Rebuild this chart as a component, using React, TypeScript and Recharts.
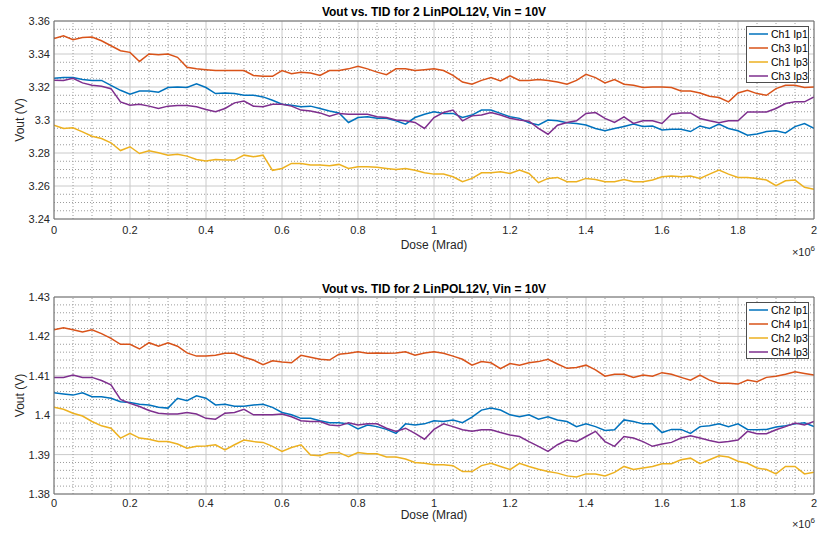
import React from "react";
import { LineChart, Line, XAxis, YAxis, CartesianGrid, ReferenceLine, Label } from "recharts";

// dose in Mrad (axis shows x10^6 rad)
const DOSE = [
  0, 0.025, 0.05, 0.075, 0.1, 0.125, 0.15, 0.175, 0.2, 0.225,
  0.25, 0.275, 0.3, 0.325, 0.35, 0.375, 0.4, 0.425, 0.45, 0.475,
  0.5, 0.525, 0.55, 0.575, 0.6, 0.625, 0.65, 0.675, 0.7, 0.725,
  0.75, 0.775, 0.8, 0.825, 0.85, 0.875, 0.9, 0.925, 0.95, 0.975,
  1, 1.025, 1.05, 1.075, 1.1, 1.125, 1.15, 1.175, 1.2, 1.225,
  1.25, 1.275, 1.3, 1.325, 1.35, 1.375, 1.4, 1.425, 1.45, 1.475,
  1.5, 1.525, 1.55, 1.575, 1.6, 1.625, 1.65, 1.675, 1.7, 1.725,
  1.75, 1.775, 1.8, 1.825, 1.85, 1.875, 1.9, 1.925, 1.95, 1.975,
  2,
];

// top panel
const CH1_IP1 = [
  3.3253, 3.3257, 3.3257, 3.3245, 3.324, 3.324, 3.321, 3.318, 3.3156, 3.3176,
  3.3176, 3.3168, 3.3197, 3.32, 3.3197, 3.322, 3.3197, 3.316, 3.3164, 3.316,
  3.315, 3.315, 3.314, 3.312, 3.3096, 3.309, 3.308, 3.3084, 3.307, 3.3055,
  3.3043, 3.2985, 3.3015, 3.302, 3.301, 3.301, 3.2995, 3.2975, 3.3015, 3.3035,
  3.305, 3.304, 3.304, 3.3015, 3.303, 3.306, 3.306, 3.304, 3.302, 3.301,
  3.2983, 3.297, 3.3, 3.2995, 3.2983, 3.2979, 3.297, 3.2949, 3.2935, 3.2949,
  3.296, 3.2975, 3.296, 3.2964, 3.294, 3.2944, 3.2944, 3.293, 3.2964, 3.2949,
  3.2975, 3.2949, 3.2935, 3.2908, 3.2915, 3.293, 3.2935, 3.2922, 3.296, 3.2979,
  3.2949,
];
const CH3_IP1 = [
  3.3493, 3.351, 3.3487, 3.35, 3.3503, 3.348, 3.345, 3.342, 3.341, 3.3355,
  3.34, 3.3395, 3.34, 3.338, 3.332, 3.331, 3.3305, 3.33, 3.33, 3.33,
  3.33, 3.327, 3.3265, 3.3265, 3.33, 3.328, 3.329, 3.3285, 3.327, 3.33,
  3.33, 3.331, 3.3326, 3.331, 3.329, 3.3275, 3.331, 3.331, 3.33, 3.3305,
  3.331, 3.33, 3.327, 3.323, 3.3217, 3.324, 3.3257, 3.3237, 3.3267, 3.324,
  3.324, 3.3245, 3.324, 3.323, 3.3217, 3.324, 3.3277, 3.3257, 3.3225, 3.3245,
  3.3217, 3.321, 3.3197, 3.32, 3.32, 3.3197, 3.3176, 3.3176, 3.3164, 3.3144,
  3.3136, 3.311, 3.3164, 3.318, 3.316, 3.315, 3.319, 3.321, 3.321, 3.3197,
  3.32,
];
const CH1_IP3 = [
  3.2969, 3.2949, 3.2953, 3.2928, 3.2902, 3.2888, 3.2862, 3.2815, 3.2838, 3.2797,
  3.2813, 3.2801, 3.2787, 3.2793, 3.2781, 3.2761, 3.2751, 3.2761, 3.2757, 3.2757,
  3.2787, 3.2777, 3.2787, 3.2695, 3.2706, 3.2737, 3.2737, 3.2727, 3.2727, 3.2723,
  3.2731, 3.2706, 3.2717, 3.2717, 3.2713, 3.2706, 3.27, 3.2706, 3.2696, 3.268,
  3.2672, 3.2672, 3.2656, 3.2626, 3.2646, 3.268, 3.268, 3.2686, 3.2676, 3.2696,
  3.2676, 3.262, 3.2646, 3.2652, 3.2626, 3.2626, 3.2646, 3.264, 3.2626, 3.2626,
  3.264, 3.2626, 3.2626, 3.2636, 3.2656, 3.266, 3.2656, 3.266, 3.2646, 3.2672,
  3.2696, 3.2672, 3.2652, 3.2652, 3.2646, 3.2636, 3.2602, 3.2632, 3.2636, 3.2592,
  3.258,
];
const CH3_IP3 = [
  3.3241, 3.324, 3.3253, 3.3225, 3.321, 3.3205, 3.319, 3.311, 3.309, 3.3096,
  3.3084, 3.307, 3.3084, 3.3088, 3.3088, 3.308, 3.3064, 3.305, 3.307, 3.3104,
  3.3115, 3.3084, 3.308, 3.3096, 3.3096, 3.3084, 3.306, 3.3055, 3.3043, 3.3023,
  3.304, 3.3035, 3.3035, 3.3035, 3.302, 3.3015, 3.3, 3.2995, 3.2985, 3.2949,
  3.3015, 3.3045, 3.306, 3.2995, 3.3025, 3.303, 3.3045, 3.303, 3.301, 3.3,
  3.2993, 3.2949, 3.2914, 3.2968, 3.2985, 3.2995, 3.304, 3.3045, 3.301, 3.2985,
  3.3019, 3.2979, 3.2995, 3.2995, 3.2979, 3.3035, 3.3043, 3.3043, 3.3009, 3.2995,
  3.2983, 3.2995, 3.2995, 3.3049, 3.3049, 3.3049, 3.307, 3.31, 3.311, 3.311,
  3.314,
];

// bottom panel
const CH2_IP1 = [
  1.4057, 1.4054, 1.4051, 1.4057, 1.4047, 1.4047, 1.4043, 1.4034, 1.4032, 1.4028,
  1.4026, 1.402, 1.4018, 1.4043, 1.4037, 1.4049, 1.4043, 1.4026, 1.4028, 1.4023,
  1.4023, 1.4026, 1.4028, 1.402, 1.4007, 1.4001, 1.3992, 1.3992, 1.3986, 1.3981,
  1.3981, 1.3978, 1.3965, 1.3975, 1.3971, 1.3964, 1.3954, 1.3978, 1.3975, 1.3978,
  1.3986, 1.3984, 1.3988, 1.3981, 1.3995, 1.4013, 1.4018, 1.4013, 1.4001, 1.3996,
  1.4001, 1.399, 1.3996, 1.3988, 1.3984, 1.3971, 1.3978, 1.3971, 1.3961, 1.3963,
  1.3988, 1.3984, 1.3978, 1.3978, 1.3956, 1.3964, 1.3964, 1.3954, 1.3971, 1.3973,
  1.3978, 1.3971, 1.3978, 1.3964, 1.3963, 1.3964, 1.397, 1.3973, 1.3978, 1.3981,
  1.3971,
];
const CH4_IP1 = [
  1.4217, 1.4222, 1.4217, 1.4211, 1.4217, 1.4207, 1.4195, 1.418, 1.418, 1.4168,
  1.4184, 1.4175, 1.4184, 1.4175, 1.4158, 1.415, 1.415, 1.4152, 1.4157, 1.4157,
  1.4147, 1.414, 1.4128, 1.4138, 1.4135, 1.4133, 1.4152, 1.4147, 1.4142, 1.414,
  1.4155, 1.4157, 1.4161, 1.4157, 1.4158, 1.4157, 1.4158, 1.4161, 1.4152, 1.4158,
  1.4161, 1.4157, 1.415, 1.4142, 1.4127, 1.4136, 1.4133, 1.4118, 1.4131, 1.4127,
  1.4133, 1.4136, 1.4142, 1.413, 1.4119, 1.4121, 1.4127, 1.4115, 1.4099, 1.4104,
  1.4104, 1.4096, 1.4102, 1.4099, 1.4108, 1.4104, 1.4096, 1.4089, 1.4102, 1.4089,
  1.4081, 1.4081, 1.4079, 1.4089, 1.4085, 1.4096, 1.4099, 1.4104, 1.411, 1.4106,
  1.4102,
];
const CH2_IP3 = [
  1.402, 1.4015, 1.4005, 1.3998, 1.3984, 1.3973, 1.3967, 1.3942, 1.3954, 1.3942,
  1.3939, 1.3933, 1.3933, 1.3927, 1.3916, 1.3921, 1.3922, 1.3925, 1.3912, 1.3925,
  1.3937, 1.3933, 1.3931, 1.3921, 1.3908, 1.3918, 1.3925, 1.3899, 1.3897, 1.3905,
  1.3905, 1.3895, 1.3905, 1.3902, 1.3902, 1.3894, 1.3894, 1.3889, 1.388, 1.3878,
  1.3874, 1.3874, 1.3872, 1.3857, 1.3857, 1.3872, 1.3878, 1.387, 1.3862, 1.3878,
  1.387, 1.3863, 1.3857, 1.3853, 1.3846, 1.3843, 1.3851, 1.3851, 1.3846, 1.3855,
  1.387, 1.3862, 1.3866, 1.387, 1.3877, 1.3877, 1.3887, 1.3891, 1.3877, 1.3887,
  1.3897, 1.3894, 1.3883, 1.3878, 1.3866, 1.3862, 1.3851, 1.387, 1.387, 1.3851,
  1.3855,
];
const CH4_IP3 = [
  1.4096, 1.4096, 1.4102, 1.4096, 1.4096, 1.4088, 1.4077, 1.404, 1.403, 1.4022,
  1.4012, 1.4005, 1.4003, 1.4003, 1.4007, 1.4003, 1.3992, 1.399, 1.4005, 1.4007,
  1.4015, 1.4001, 1.4001, 1.4001, 1.4003, 1.3996, 1.3986, 1.3984, 1.3984, 1.3975,
  1.3973, 1.3981, 1.3975, 1.3978, 1.3978, 1.3967, 1.3959, 1.3967, 1.3954, 1.3939,
  1.3964, 1.3978, 1.3971, 1.3963, 1.3959, 1.3963, 1.3963, 1.3956, 1.395, 1.3946,
  1.3933, 1.3921, 1.3908, 1.3925, 1.3937, 1.3933, 1.3946, 1.3959, 1.3933, 1.3921,
  1.3946, 1.3942, 1.3933, 1.3921, 1.3927, 1.3931, 1.3942, 1.3948, 1.3942, 1.3936,
  1.3931, 1.3933, 1.3937, 1.3959, 1.3953, 1.3953, 1.3963, 1.3971, 1.398, 1.3975,
  1.3984,
];

const X_TICKS = [0, 0.2, 0.4, 0.6, 0.8, 1, 1.2, 1.4, 1.6, 1.8, 2];
const X_MINOR = [
  0.05, 0.1, 0.15, 0.25, 0.3, 0.35, 0.45, 0.5, 0.55, 0.65, 0.7, 0.75, 0.85, 0.9, 0.95,
  1.05, 1.1, 1.15, 1.25, 1.3, 1.35, 1.45, 1.5, 1.55, 1.65, 1.7, 1.75, 1.85, 1.9, 1.95,
];
const TOP_Y_TICKS = [3.24, 3.26, 3.28, 3.3, 3.32, 3.34, 3.36];
const TOP_Y_MINOR = [
  3.245, 3.25, 3.255, 3.265, 3.27, 3.275, 3.285, 3.29, 3.295,
  3.305, 3.31, 3.315, 3.325, 3.33, 3.335, 3.345, 3.35, 3.355,
];
const BOT_Y_TICKS = [1.38, 1.39, 1.4, 1.41, 1.42, 1.43];
const BOT_Y_MINOR = [
  1.382, 1.384, 1.386, 1.388, 1.392, 1.394, 1.396, 1.398, 1.402, 1.404,
  1.406, 1.408, 1.412, 1.414, 1.416, 1.418, 1.422, 1.424, 1.426, 1.428,
];

const TITLE = "Vout vs. TID for 2 LinPOL12V, Vin = 10V";

const BLUE = "#0072BD";
const ORANGE = "#D95319";
const YELLOW = "#EDB120";
const PURPLE = "#7E2F8E";

const TOP_SERIES = [
  { key: "ch1ip1", name: "Ch1 Ip1", color: BLUE, values: CH1_IP1 },
  { key: "ch3ip1", name: "Ch3 Ip1", color: ORANGE, values: CH3_IP1 },
  { key: "ch1ip3", name: "Ch1 Ip3", color: YELLOW, values: CH1_IP3 },
  { key: "ch3ip3", name: "Ch3 Ip3", color: PURPLE, values: CH3_IP3 },
];
const BOT_SERIES = [
  { key: "ch2ip1", name: "Ch2 Ip1", color: BLUE, values: CH2_IP1 },
  { key: "ch4ip1", name: "Ch4 Ip1", color: ORANGE, values: CH4_IP1 },
  { key: "ch2ip3", name: "Ch2 Ip3", color: YELLOW, values: CH2_IP3 },
  { key: "ch4ip3", name: "Ch4 Ip3", color: PURPLE, values: CH4_IP3 },
];

type Series = { key: string; name: string; color: string; values: number[] };

const FONT = "'Liberation Sans', Arial, Helvetica, sans-serif";
const AXIS = "#6e6e6e";
const TEXT = "#262626";
const MINOR = "#9c9c9c";
const MAJOR = "#cacaca";

function buildRows(series: Series[]) {
  return DOSE.map((d, i) => {
    const row: Record<string, number> = { dose: d };
    series.forEach((s) => (row[s.key] = s.values[i]));
    return row;
  });
}

// "Dose (Mrad)" plus the x10^6 exponent, placed under the axis
const XLabel = (dy: number, expDy: number) => (props: any) => {
  const vb = props.viewBox;
  return (
    <g>
      <text x={vb.x + vb.width / 2} y={vb.y + dy} textAnchor="middle" fontSize={12} fill={TEXT}>
        Dose (Mrad)
      </text>
      <text x={vb.x + vb.width + 1} y={vb.y + expDy} textAnchor="end" fontSize={11} fill={TEXT}>
        ×10
        <tspan dy={-5} fontSize={8}>6</tspan>
      </text>
    </g>
  );
};

function LegendBox({ series, top }: { series: Series[]; top: number }) {
  return (
    <div
      style={{
        position: "absolute",
        left: 746,
        top,
        width: 63,
        height: 57,
        border: "1px solid #4d4d4d",
        background: "#fff",
        boxSizing: "border-box",
      }}
    >
      {series.map((s, i) => (
        <div
          key={s.key}
          style={{ position: "absolute", left: 0, top: i * 14, height: 14, display: "flex", alignItems: "center" }}
        >
          <svg width={24} height={14} style={{ display: "block" }}>
            <line x1={2} x2={21} y1={7} y2={7} stroke={s.color} strokeWidth={1.5} />
          </svg>
          <span style={{ fontSize: 10.5, color: "#000", whiteSpace: "nowrap" }}>{s.name}</span>
        </div>
      ))}
    </div>
  );
}

type PanelProps = {
  series: Series[];
  yDomain: [number, number];
  yTicks: number[];
  yMinor: number[];
  height: number;
  marginTop: number;
  xAxisHeight: number;
  tickGap: number;
  labelDy: number;
  expDy: number;
};

function Panel(p: PanelProps) {
  const data = buildRows(p.series);
  return (
    <LineChart
      width={820}
      height={p.height}
      data={data}
      margin={{ top: p.marginTop - 1, right: 5, bottom: 0, left: 0 }}
    >
      <XAxis
        xAxisId="top"
        orientation="top"
        type="number"
        domain={[0, 2]}
        ticks={X_TICKS}
        height={1}
        tick={false}
        tickLine={false}
        axisLine={{ stroke: AXIS }}
      />
      <YAxis
        yAxisId="right"
        orientation="right"
        type="number"
        domain={p.yDomain}
        ticks={p.yTicks}
        width={1}
        tick={false}
        tickLine={false}
        axisLine={{ stroke: AXIS }}
      />
      <XAxis
        xAxisId="x"
        dataKey="dose"
        type="number"
        domain={[0, 2]}
        ticks={X_TICKS}
        allowDataOverflow
        height={p.xAxisHeight}
        tickLine={false}
        tickSize={0}
        tickMargin={p.tickGap}
        tick={{ fontSize: 11, fill: TEXT }}
        axisLine={{ stroke: AXIS }}
      >
        <Label content={XLabel(p.labelDy, p.expDy)} />
      </XAxis>
      <YAxis
        yAxisId="y"
        type="number"
        domain={p.yDomain}
        ticks={p.yTicks}
        allowDataOverflow
        width={54}
        tickLine={false}
        tickSize={0}
        tickMargin={4}
        tick={{ fontSize: 11, fill: TEXT }}
        tickFormatter={(v: number) => String(v)}
        axisLine={{ stroke: AXIS }}
      >
        <Label
          value="Vout (V)"
          angle={-90}
          position="insideLeft"
          offset={20}
          style={{ fontSize: 12, fill: TEXT, textAnchor: "middle" }}
        />
      </YAxis>

      <CartesianGrid xAxisId="x" yAxisId="y" stroke={MAJOR} />
      {X_MINOR.map((v) => (
        <ReferenceLine
          key={`mx${v}`}
          x={v}
          xAxisId="x"
          yAxisId="y"
          stroke={MINOR}
          strokeDasharray="1 2"
        />
      ))}
      {p.yMinor.map((v) => (
        <ReferenceLine
          key={`my${v}`}
          y={v}
          xAxisId="x"
          yAxisId="y"
          stroke={MINOR}
          strokeDasharray="1 2"
        />
      ))}

      {p.series.map((s) => (
        <Line
          key={s.key}
          xAxisId="x"
          yAxisId="y"
          type="linear"
          dataKey={s.key}
          name={s.name}
          stroke={s.color}
          strokeWidth={1.5}
          dot={false}
          isAnimationActive={false}
        />
      ))}
    </LineChart>
  );
}

const titleStyle: React.CSSProperties = {
  position: "absolute",
  left: 54,
  width: 760,
  textAlign: "center",
  fontSize: 12,
  fontWeight: "bold",
  lineHeight: "14px",
  color: "#000",
  whiteSpace: "nowrap",
};

export default function App() {
  return (
    <div
      style={{
        position: "absolute",
        left: 0,
        top: 0,
        width: 820,
        height: 533,
        background: "#fff",
        fontFamily: FONT,
        overflow: "hidden",
      }}
    >
      <div style={{ position: "absolute", left: 0, top: 0 }}>
        <Panel
          series={TOP_SERIES}
          yDomain={[3.24, 3.36]}
          yTicks={TOP_Y_TICKS}
          yMinor={TOP_Y_MINOR}
          height={270}
          marginTop={21}
          xAxisHeight={51}
          tickGap={7}
          labelDy={30}
          expDy={37}
        />
      </div>
      <div style={{ position: "absolute", left: 0, top: 270 }}>
        <Panel
          series={BOT_SERIES}
          yDomain={[1.38, 1.43]}
          yTicks={BOT_Y_TICKS}
          yMinor={BOT_Y_MINOR}
          height={263}
          marginTop={27}
          xAxisHeight={39}
          tickGap={5}
          labelDy={25}
          expDy={34}
        />
      </div>
      <div style={{ ...titleStyle, top: 5 }}>{TITLE}</div>
      <div style={{ ...titleStyle, top: 282 }}>{TITLE}</div>
      <LegendBox series={TOP_SERIES} top={26} />
      <LegendBox series={BOT_SERIES} top={302} />
    </div>
  );
}
